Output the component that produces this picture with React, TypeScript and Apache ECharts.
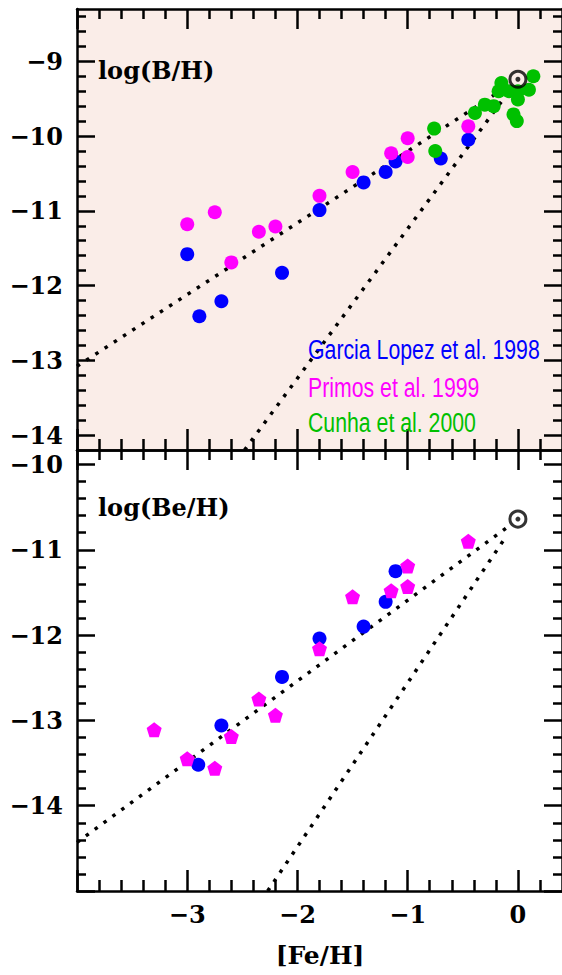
import React, { useEffect, useRef } from 'react';
import * as echarts from 'echarts';

// ---- axis extents & ticks ----
const X_MIN = -4;
const X_MAX = 0.4;
const xMajorTicks = [-4, -3, -2, -1, 0];
const xMinorTicks = [-3.8, -3.6, -3.4, -3.2, -2.8, -2.6, -2.4, -2.2, -1.8, -1.6, -1.4, -1.2, -0.8, -0.6, -0.4, -0.2, 0.2];
const xTickLabels = [-3, -2, -1, 0];

const BORON_MIN = -14.2;
const BORON_MAX = -8.3;
const boronMajorTicks = [-14, -13, -12, -11, -10, -9];
const boronMinorTicks = [-13.8, -13.6, -13.4, -13.2, -12.8, -12.6, -12.4, -12.2, -11.8, -11.6, -11.4, -11.2, -10.8, -10.6, -10.4, -10.2, -9.8, -9.6, -9.4, -9.2, -8.8, -8.6, -8.4];

const BERYL_MIN = -15;
const BERYL_MAX = -9.83;
const berylMajorTicks = [-15, -14, -13, -12, -11, -10];
const berylMinorTicks = [-14.8, -14.6, -14.4, -14.2, -13.8, -13.6, -13.4, -13.2, -12.8, -12.6, -12.4, -12.2, -11.8, -11.6, -11.4, -11.2, -10.8, -10.6, -10.4, -10.2];
const berylTickLabels = [-14, -13, -12, -11, -10];

// ---- data: log(B/H) ----
const boronGarcia = [[-3.0, -11.58], [-2.89, -12.41], [-2.69, -12.21], [-2.14, -11.83], [-1.80, -10.99], [-1.40, -10.62], [-1.20, -10.48], [-1.11, -10.34], [-0.70, -10.30], [-0.45, -10.05]];
const boronPrimas = [[-3.0, -11.18], [-2.75, -11.02], [-2.60, -11.69], [-2.35, -11.28], [-2.20, -11.21], [-1.80, -10.80], [-1.50, -10.48], [-1.15, -10.23], [-1.00, -10.03], [-1.00, -10.28], [-0.45, -9.87]];
const boronCunha = [[-0.76, -9.90], [-0.75, -10.20], [-0.39, -9.69], [-0.30, -9.58], [-0.22, -9.60], [-0.175, -9.40], [-0.15, -9.29], [-0.08, -9.40], [0.0, -9.40], [0.10, -9.38], [0.0, -9.51], [-0.04, -9.71], [-0.01, -9.80], [0.14, -9.20]];
const boronShallowLine = [[-4, -13.08], [-0.08, -9.32]];
const boronSteepLine = [[-2.48, -14.2], [-0.1, -9.44]];
const boronSun = [[0, -9.24]];

// ---- data: log(Be/H) ----
const berylGarcia = [[-2.90, -13.52], [-2.69, -13.06], [-2.14, -12.49], [-1.80, -12.04], [-1.40, -11.90], [-1.20, -11.61], [-1.11, -11.25]];
const berylPrimas = [[-3.30, -13.11], [-3.0, -13.45], [-2.75, -13.56], [-2.60, -13.19], [-2.35, -12.75], [-2.20, -12.94], [-1.80, -12.16], [-1.50, -11.55], [-1.15, -11.48], [-1.00, -11.43], [-1.00, -11.19], [-0.45, -10.90]];
const berylShallowLine = [[-4, -14.43], [-0.1, -10.74]];
const berylSteepLine = [[-2.27, -15], [-0.1, -10.83]];
const berylSun = [[0, -10.64]];

const legendNames = ['Garcia Lopez et al. 1998', 'Primos et al. 1999', 'Cunha et al. 2000'];

const BLUE = '#0000ff';
const MAGENTA = '#ff00ff';
const GREEN = '#00c000';
const SERIF = '"DejaVu Serif", serif';
const PENTAGON = 'path://M0,-10 L9.5,-3.1 L5.9,8.1 L-5.9,8.1 L-9.5,-3.1 Z';

const fmt = (v: number) => (v < 0 ? '\u2212' + Math.abs(v) : String(v));

const LW = 2.5;
const labelStyle = { color: '#000', fontFamily: SERIF, fontWeight: 'bold' as const, fontSize: 24 };

function tickAxis(
  dim: 'x' | 'y', gridIndex: number, position: string, min: number, max: number,
  ticks: number[], len: number, showLine: boolean, labels: number[] | null, margin: number
) {
  return {
    type: 'value', gridIndex, position, min, max,
    axisLine: { show: showLine, onZero: false, lineStyle: { color: '#000', width: LW } },
    axisTick: { show: true, inside: true, length: len, customValues: ticks, lineStyle: { color: '#000', width: LW } },
    axisLabel: labels ? { show: true, customValues: labels, formatter: fmt, margin, ...labelStyle } : { show: false },
    splitLine: { show: false },
    minorTick: { show: false },
  };
}

function buildOption() {
  const xAxes: any[] = [];
  const yAxes: any[] = [];
  // grid 0: B/H
  xAxes.push(tickAxis('x', 0, 'bottom', X_MIN, X_MAX, xMajorTicks, 21, true, null, 12));
  xAxes.push(tickAxis('x', 0, 'bottom', X_MIN, X_MAX, xMinorTicks, 11, false, null, 12));
  xAxes.push(tickAxis('x', 0, 'top', X_MIN, X_MAX, xMajorTicks, 20, true, null, 12));
  xAxes.push(tickAxis('x', 0, 'top', X_MIN, X_MAX, xMinorTicks, 10, false, null, 12));
  yAxes.push(tickAxis('y', 0, 'left', BORON_MIN, BORON_MAX, boronMajorTicks, 18, true, boronMajorTicks, 14));
  yAxes.push(tickAxis('y', 0, 'left', BORON_MIN, BORON_MAX, boronMinorTicks, 9, false, null, 14));
  yAxes.push(tickAxis('y', 0, 'right', BORON_MIN, BORON_MAX, boronMajorTicks, 18, true, null, 14));
  yAxes.push(tickAxis('y', 0, 'right', BORON_MIN, BORON_MAX, boronMinorTicks, 9, false, null, 14));
  // grid 1: Be/H
  xAxes.push(tickAxis('x', 1, 'bottom', X_MIN, X_MAX, xMajorTicks, 21, true, xTickLabels, 11));
  xAxes.push(tickAxis('x', 1, 'bottom', X_MIN, X_MAX, xMinorTicks, 11, false, null, 11));
  xAxes.push(tickAxis('x', 1, 'top', X_MIN, X_MAX, xMajorTicks, 20, true, null, 11));
  xAxes.push(tickAxis('x', 1, 'top', X_MIN, X_MAX, xMinorTicks, 10, false, null, 11));
  yAxes.push(tickAxis('y', 1, 'left', BERYL_MIN, BERYL_MAX, berylMajorTicks, 18, true, berylTickLabels, 14));
  yAxes.push(tickAxis('y', 1, 'left', BERYL_MIN, BERYL_MAX, berylMinorTicks, 9, false, null, 14));
  yAxes.push(tickAxis('y', 1, 'right', BERYL_MIN, BERYL_MAX, berylMajorTicks, 18, true, null, 14));
  yAxes.push(tickAxis('y', 1, 'right', BERYL_MIN, BERYL_MAX, berylMinorTicks, 9, false, null, 14));

  const dotted = (data: number[][], xi: number, yi: number) => ({
    type: 'line', data, xAxisIndex: xi, yAxisIndex: yi, symbol: 'none', silent: true,
    lineStyle: { color: '#000', width: 3.5, type: [3.5, 7.5], cap: 'butt' }, z: 2,
  });
  const dots = (data: number[][], color: string, xi: number, yi: number, symbol = 'circle', size = 14) => ({
    type: 'scatter', data, xAxisIndex: xi, yAxisIndex: yi, symbol, symbolSize: size,
    itemStyle: { color, opacity: 1 }, z: 3,
  });
  const sun = (data: number[][], xi: number, yi: number) => [
    { type: 'scatter', data, xAxisIndex: xi, yAxisIndex: yi, symbol: 'circle', symbolSize: 16,
      itemStyle: { color: 'rgba(0,0,0,0)', borderColor: '#000', borderWidth: 3 }, z: 4 },
    { type: 'scatter', data, xAxisIndex: xi, yAxisIndex: yi, symbol: 'circle', symbolSize: 5,
      itemStyle: { color: '#000' }, z: 4 },
  ];

  const series: any[] = [
    dotted(boronShallowLine, 0, 0),
    dotted(boronSteepLine, 0, 0),
    dots(boronGarcia, BLUE, 0, 0),
    dots(boronPrimas, MAGENTA, 0, 0),
    dots(boronCunha, GREEN, 0, 0),
    ...sun(boronSun, 0, 0),
    dotted(berylShallowLine, 4, 4),
    dotted(berylSteepLine, 4, 4),
    dots(berylGarcia, BLUE, 4, 4),
    dots(berylPrimas, MAGENTA, 4, 4, PENTAGON, 15),
    ...sun(berylSun, 4, 4),
  ];

  const legendText = (text: string, color: string, y: number) => ({
    type: 'text', x: 308, y, scaleX: 0.76, z: 10,
    style: { text, fill: color, fontFamily: '"Liberation Sans", Arial, sans-serif', fontSize: 28, verticalAlign: 'middle', align: 'left' },
  });

  return {
    animation: false,
    backgroundColor: '#ffffff',
    grid: [
      { left: 77, top: 9, width: 486, height: 441, show: true, backgroundColor: '#faede8', borderWidth: 0 },
      { left: 77, top: 450, width: 486, height: 441, show: false },
    ],
    xAxis: xAxes,
    yAxis: yAxes,
    series,
    graphic: [
      { type: 'text', x: 98, y: 70, z: 10, style: { text: 'log(B/H)', fill: '#000', fontFamily: SERIF, fontWeight: 'bold', fontSize: 24, verticalAlign: 'middle' } },
      { type: 'text', x: 98, y: 507, z: 10, style: { text: 'log(Be/H)', fill: '#000', fontFamily: SERIF, fontWeight: 'bold', fontSize: 24, verticalAlign: 'middle' } },
      legendText(legendNames[0], BLUE, 349),
      legendText(legendNames[1], MAGENTA, 387),
      legendText(legendNames[2], GREEN, 422),
      { type: 'text', x: 320, y: 955, z: 10, style: { text: '[Fe/H]', fill: '#000', fontFamily: SERIF, fontWeight: 'bold', fontSize: 25, align: 'center', verticalAlign: 'middle' } },
    ],
  };
}

export default function App() {
  const ref = useRef<HTMLDivElement>(null);
  useEffect(() => {
    if (!ref.current) return;
    const chart = echarts.init(ref.current, undefined, { renderer: 'svg' });
    chart.setOption(buildOption() as any);
    return () => chart.dispose();
  }, []);
  return <div ref={ref} style={{ position: 'absolute', left: 0, top: 0, width: 562, height: 975 }} />;
}
